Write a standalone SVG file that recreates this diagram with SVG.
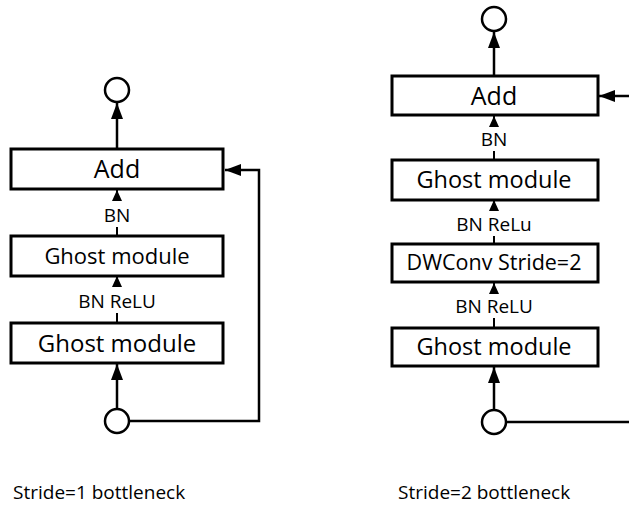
<svg xmlns="http://www.w3.org/2000/svg" width="629" height="506" viewBox="0 0 629 506">
  <style>
    .box { fill: #ffffff; stroke: #000000; stroke-width: 3; }
    .node { fill: #ffffff; stroke: #000000; stroke-width: 2.5; }
    .wire { fill: none; stroke: #000000; stroke-width: 2.5; }
    .thin { fill: none; stroke: #000000; stroke-width: 2; }
    .txt { font-family: "Open Sans", "Noto Sans", "DejaVu Sans", sans-serif; fill: #000000; text-anchor: middle; }
    .lbl { font-size: 19px; }
    .cap { font-family: "Open Sans", "Noto Sans", "DejaVu Sans", sans-serif; font-size: 19px; fill: #000000; }
  </style>
  <defs>
    <marker id="big" viewBox="0 0 16 12" refX="16" refY="6" markerWidth="16" markerHeight="12" markerUnits="userSpaceOnUse" orient="auto">
      <path d="M0,0 L16,6 L0,12 Z" fill="#000000"/>
    </marker>
    <marker id="small" viewBox="0 0 11 10" refX="11" refY="5" markerWidth="11" markerHeight="10" markerUnits="userSpaceOnUse" orient="auto">
      <path d="M0,0 L11,5 L0,10 Z" fill="#000000"/>
    </marker>
  </defs>

  <!-- connectors -->
  <g id="connectors">
    <!-- stride 1 -->
    <line class="wire" x1="117" y1="149" x2="117" y2="103" marker-end="url(#big)"/>
    <line class="thin" x1="117" y1="201" x2="117" y2="190" marker-end="url(#small)"/>
    <line class="thin" x1="117" y1="227" x2="117" y2="236"/>
    <line class="thin" x1="117" y1="287" x2="117" y2="276" marker-end="url(#small)"/>
    <line class="thin" x1="117" y1="313" x2="117" y2="323"/>
    <line class="wire" x1="117" y1="409" x2="117" y2="364" marker-end="url(#big)"/>
    <polyline class="wire" points="129,421 259,421 259,170 225,170" marker-end="url(#big)"/>
    <!-- stride 2 -->
    <line class="wire" x1="494" y1="76" x2="494" y2="32" marker-end="url(#big)"/>
    <line class="thin" x1="494" y1="127" x2="494" y2="116" marker-end="url(#small)"/>
    <line class="thin" x1="494" y1="151" x2="494" y2="160"/>
    <line class="thin" x1="494" y1="211" x2="494" y2="200" marker-end="url(#small)"/>
    <line class="thin" x1="494" y1="236" x2="494" y2="244"/>
    <line class="thin" x1="494" y1="294" x2="494" y2="283" marker-end="url(#small)"/>
    <line class="thin" x1="494" y1="318" x2="494" y2="328"/>
    <line class="wire" x1="494" y1="410" x2="494" y2="367" marker-end="url(#big)"/>
    <line class="wire" x1="506" y1="422" x2="629" y2="422"/>
    <line class="wire" x1="629" y1="96" x2="599" y2="96" marker-end="url(#big)"/>
  </g>

  <!-- stride 1 bottleneck -->
  <g id="s1-out"><circle class="node" cx="117" cy="90" r="12"/></g>
  <g id="s1-add">
    <rect class="box" x="11" y="149" width="212" height="40"/>
    <text class="txt" x="117" y="178" font-size="25">Add</text>
  </g>
  <g id="s1-bn"><text class="txt lbl" x="117" y="222">BN</text></g>
  <g id="s1-ghost2">
    <rect class="box" x="11" y="236" width="212" height="40"/>
    <text class="txt" x="117" y="264" font-size="22">Ghost module</text>
  </g>
  <g id="s1-bnrelu"><text class="txt lbl" x="117" y="308">BN ReLU</text></g>
  <g id="s1-ghost1">
    <rect class="box" x="11" y="323" width="212" height="40"/>
    <text class="txt" x="117" y="352" font-size="24">Ghost module</text>
  </g>
  <g id="s1-in"><circle class="node" cx="117" cy="421" r="12"/></g>
  <g id="s1-caption"><text class="cap" x="13" y="499">Stride=1 bottleneck</text></g>

  <!-- stride 2 bottleneck -->
  <g id="s2-out"><circle class="node" cx="494" cy="19" r="12"/></g>
  <g id="s2-add">
    <rect class="box" x="392" y="76" width="206" height="39"/>
    <text class="txt" x="494" y="105" font-size="25">Add</text>
  </g>
  <g id="s2-bn"><text class="txt lbl" x="494" y="146">BN</text></g>
  <g id="s2-ghost2">
    <rect class="box" x="392" y="160" width="206" height="40"/>
    <text class="txt" x="494" y="188" font-size="23.5">Ghost module</text>
  </g>
  <g id="s2-bnrelu2"><text class="txt lbl" x="494" y="231">BN ReLu</text></g>
  <g id="s2-dwconv">
    <rect class="box" x="392" y="244" width="206" height="38"/>
    <text class="txt" x="494" y="270" font-size="21.5">DWConv Stride=2</text>
  </g>
  <g id="s2-bnrelu1"><text class="txt lbl" x="494" y="313">BN ReLU</text></g>
  <g id="s2-ghost1">
    <rect class="box" x="392" y="328" width="206" height="38"/>
    <text class="txt" x="494" y="355" font-size="23.5">Ghost module</text>
  </g>
  <g id="s2-in"><circle class="node" cx="494" cy="422" r="12"/></g>
  <g id="s2-caption"><text class="cap" x="398" y="499">Stride=2 bottleneck</text></g>
</svg>
